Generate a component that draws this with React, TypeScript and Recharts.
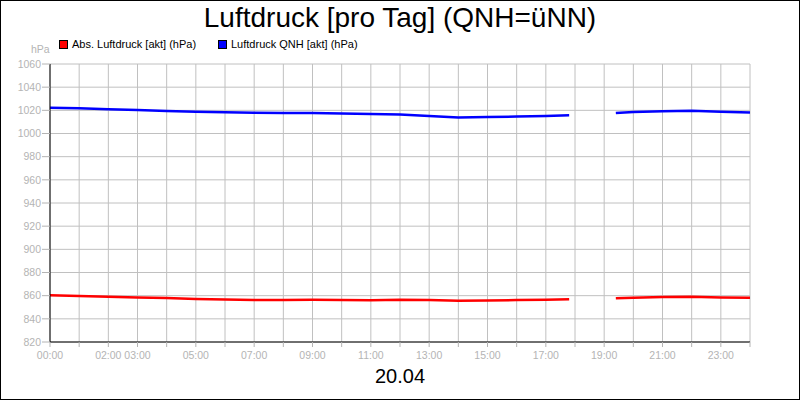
import { LineChart, Line, XAxis, YAxis, CartesianGrid } from "recharts";

const hours = [0, 1, 2, 3, 4, 5, 6, 7, 8, 9, 10, 11, 12, 13, 14, 15, 16, 17, 17.8, 18.6, 19.4, 20, 21, 22, 23, 24];
const qnh = [1022.3, 1021.7, 1021, 1020.2, 1019.4, 1018.8, 1018.3, 1018, 1017.7, 1017.6, 1017.2, 1016.9, 1016.5, 1015.2, 1013.8, 1014.2, 1014.6, 1015.1, 1015.7, null, 1017.7, 1018.6, 1019.2, 1019.7, 1018.7, 1018.2];
const absP = [860.3, 859.7, 859.1, 858.5, 858, 857.2, 856.6, 856.3, 856.2, 856.4, 856.3, 856.1, 856.5, 856.2, 855.6, 855.8, 856.2, 856.5, 856.8, null, 857.8, 858.3, 858.8, 859.1, 858.5, 858.1];
const xTicks = Array.from({ length: 25 }, (_, i) => i);
const labelledHours = [0, 2, 3, 5, 7, 9, 11, 13, 15, 17, 19, 21, 23];
const yTicks = [820, 840, 860, 880, 900, 920, 940, 960, 980, 1000, 1020, 1040, 1060];

const data = hours.map((h, i) => ({ h, qnh: qnh[i], abs: absP[i] }));

const FONT = "'Liberation Sans', Arial, sans-serif";
const GRAY = "#b4b4b4";

const XTick = (props: any) => {
  const { x, y, payload } = props;
  if (!labelledHours.includes(payload.value)) return null;
  const label = String(payload.value).padStart(2, "0") + ":00";
  return (
    <text x={x} y={y + 10} textAnchor="middle" fill={GRAY} fontSize={10.5} fontFamily={FONT}>
      {label}
    </text>
  );
};

// legend kept outside the chart so it does not push the plot down
const LegendBox = () => (
  <div style={{ position: "absolute", left: 0, top: 37, width: 798, height: 14, fontSize: 11 }}>
    <span style={{ position: "absolute", left: 58, top: 2, width: 7, height: 7, background: "#ff0000", border: "1px solid #000" }} />
    <span style={{ position: "absolute", left: 71, top: 0 }}>Abs. Luftdruck [akt] (hPa)</span>
    <span style={{ position: "absolute", left: 217, top: 2, width: 7, height: 7, background: "#0000ff", border: "1px solid #000" }} />
    <span style={{ position: "absolute", left: 230, top: 0 }}>Luftdruck QNH [akt] (hPa)</span>
  </div>
);

export default function App() {
  return (
    <div
      style={{
        position: "absolute",
        left: 0,
        top: 0,
        width: 800,
        height: 400,
        border: "1px solid #000",
        boxSizing: "border-box",
        background: "#fff",
        fontFamily: FONT,
      }}
    >
      <div style={{ position: "absolute", left: 0, width: 798, top: 1, textAlign: "center", fontSize: 28 }}>
        Luftdruck [pro Tag] (QNH=üNN)
      </div>
      <LegendBox />
      <div style={{ position: "absolute", left: 30, top: 42, fontSize: 10.5, color: GRAY }}>hPa</div>
      <div style={{ position: "absolute", left: 0, width: 798, top: 364, textAlign: "center", fontSize: 20 }}>20.04</div>
      <div style={{ position: "absolute", left: -1, top: -1 }}>
        <LineChart width={800} height={400} data={data} margin={{ top: 64, right: 50, bottom: 38, left: 0 }}>
          <CartesianGrid stroke="#c0c0c0" strokeWidth={1} verticalValues={xTicks} horizontalValues={yTicks} />
          <XAxis
            dataKey="h"
            type="number"
            domain={[0, 24]}
            ticks={xTicks}
            interval={0}
            height={20}
            tick={<XTick />}
            tickLine={{ stroke: GRAY }}
            tickSize={5}
            axisLine={{ stroke: "#000" }}
          />
          <XAxis
            xAxisId="top"
            orientation="top"
            dataKey="h"
            type="number"
            domain={[0, 24]}
            height={0}
            tick={false}
            tickLine={false}
            axisLine={{ stroke: "#000" }}
          />
          <YAxis
            type="number"
            domain={[820, 1060]}
            ticks={yTicks}
            interval={0}
            width={50}
            tick={{ fill: GRAY, fontSize: 10.5, fontFamily: FONT }}
            tickLine={{ stroke: GRAY }}
            tickSize={8}
            tickMargin={1}
            axisLine={{ stroke: "#000" }}
          />
          <YAxis
            yAxisId="right"
            orientation="right"
            type="number"
            domain={[820, 1060]}
            width={0}
            tick={false}
            tickLine={false}
            axisLine={{ stroke: "#000" }}
          />
          <Line
            dataKey="abs"
            name="Abs. Luftdruck [akt] (hPa)"
            stroke="#ff0000"
            strokeWidth={2.5}
            dot={false}
            type="linear"
            connectNulls={false}
            isAnimationActive={false}
          />
          <Line
            dataKey="qnh"
            name="Luftdruck QNH [akt] (hPa)"
            stroke="#0000ff"
            strokeWidth={2.5}
            dot={false}
            type="linear"
            connectNulls={false}
            isAnimationActive={false}
          />
        </LineChart>
      </div>
    </div>
  );
}
